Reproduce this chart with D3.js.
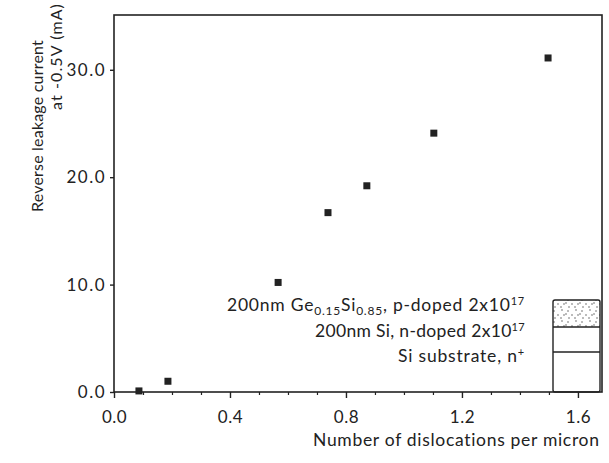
<!DOCTYPE html>
<html><head><meta charset="utf-8">
<script src="https://cdn.jsdelivr.net/npm/d3@7"></script>
<style>
html,body{margin:0;padding:0;background:#fff;}
text{font-family:Lato,"DejaVu Sans",sans-serif;fill:#222;}
</style></head>
<body><svg id="c" width="609" height="463"></svg>
<script>
// data
const dislocations = [0.086, 0.186, 0.566, 0.738, 0.872, 1.103, 1.497];
const leakage      = [0.1, 1.0, 10.2, 16.7, 19.2, 24.1, 31.1];
const xTicks = [0.0, 0.4, 0.8, 1.2, 1.6];
const xMinor = [0.1, 0.2, 0.3, 0.5, 0.6, 0.7, 0.9, 1.0, 1.1, 1.3, 1.4, 1.5];
const yTicks = [0, 10, 20, 30];
const xLabel = "Number of dislocations per micron";
const yLabel1 = "Reverse leakage current";
const yLabel2 = "at -0.5V (mA)";

const svg = d3.select("#c");
const L = 114, T = 15, R = 602, B = 392;
const x = d3.scaleLinear().domain([0, 1.683]).range([L, R]);
const y = d3.scaleLinear().domain([0, 35.1]).range([B, T]);
const ink = "#222";

// stretch a text element to a measured width via letter-spacing
function fit(sel, target) {
  const node = sel.node();
  const w = node.getComputedTextLength();
  const n = node.textContent.length;
  if (n > 1) sel.style("letter-spacing", ((target - w) / n) + "px");
  return sel;
}

// frame
svg.append("rect").attr("x", L).attr("y", T).attr("width", R - L).attr("height", B - T)
  .attr("fill", "none").attr("stroke", ink).attr("stroke-width", 1.6);

// x axis
const xa = svg.append("g").attr("transform", `translate(0,${B})`)
  .call(d3.axisBottom(x).tickValues(xTicks).tickFormat(d3.format(".1f")).tickSize(6).tickPadding(13));
xa.select(".domain").remove();
xa.selectAll("line").attr("stroke", ink).attr("stroke-width", 1.4);
xa.selectAll("text").style("font-size", "17px").style("fill", ink).style("letter-spacing", "0.5px");
svg.append("g").attr("transform", `translate(0,${B})`)
  .call(d3.axisBottom(x).tickValues(xMinor).tickFormat("").tickSize(3))
  .call(g => g.select(".domain").remove())
  .selectAll("line").attr("stroke", ink).attr("stroke-width", 1.2);

// y axis
const ya = svg.append("g").attr("transform", `translate(${L},0)`)
  .call(d3.axisLeft(y).tickValues(yTicks).tickFormat(d3.format(".1f")).tickSize(4).tickPadding(4));
ya.select(".domain").remove();
ya.selectAll("line").attr("stroke", ink).attr("stroke-width", 1.4);
ya.selectAll("text").style("font-size", "17px").style("fill", ink).style("letter-spacing", "1.5px");

// axis labels
fit(svg.append("text").attr("x", 313).attr("y", 446).attr("text-anchor", "start")
  .style("font-size", "17.5px").text(xLabel), 287);
fit(svg.append("text").attr("transform", "translate(43,212) rotate(-90)")
  .attr("text-anchor", "start").style("font-size", "16px").text(yLabel1), 172);
fit(svg.append("text").attr("transform", "translate(62,110) rotate(-90)")
  .attr("text-anchor", "start").style("font-size", "16px").text(yLabel2), 107);

// points
const pts = dislocations.map((d, i) => ({x: d, y: leakage[i]}));
svg.selectAll("rect.pt").data(pts).enter().append("rect").attr("class", "pt")
  .attr("x", d => x(d.x) - 3.5).attr("y", d => y(d.y) - 3.5)
  .attr("width", 7).attr("height", 7).attr("fill", ink);

// legend (layer stack)
const defs = svg.append("defs");
const pat = defs.append("pattern").attr("id", "dots").attr("patternUnits", "userSpaceOnUse")
  .attr("width", 14).attr("height", 11);
[[2,2],[8,3],[12,7],[4,7],[9,10],[1,10],[6,6]].forEach(p =>
  pat.append("circle").attr("cx", p[0]).attr("cy", p[1]).attr("r", 0.7).attr("fill", "#444"));

const bx0 = 553, bx1 = 600;
const rows = [300, 327, 352, B];
svg.append("rect").attr("x", bx0).attr("y", rows[0]).attr("width", bx1 - bx0).attr("height", rows[1] - rows[0])
  .attr("fill", "url(#dots)");
svg.append("rect").attr("x", bx0).attr("y", rows[0]).attr("width", bx1 - bx0).attr("height", rows[3] - rows[0])
  .attr("fill", "none").attr("stroke", ink).attr("stroke-width", 1.4).attr("rx", 2);
[rows[1], rows[2]].forEach(r => svg.append("line").attr("x1", bx0).attr("x2", bx1)
  .attr("y1", r).attr("y2", r).attr("stroke", ink).attr("stroke-width", 1.3));

const lt = svg.append("g").style("font-size", "17.5px");
const t1 = lt.append("text").attr("x", 227).attr("y", 311);
t1.append("tspan").text("200nm Ge");
t1.append("tspan").attr("dy", 4).style("font-size", "12px").text("0.15");
t1.append("tspan").attr("dy", -4).text("Si");
t1.append("tspan").attr("dy", 4).style("font-size", "12px").text("0.85");
t1.append("tspan").attr("dy", -4).text(", p-doped 2x10");
t1.append("tspan").attr("dy", -6).style("font-size", "11px").text("17");
fit(t1, 298);
const t2 = lt.append("text").attr("x", 315).attr("y", 337);
t2.append("tspan").text("200nm Si, n-doped 2x10");
t2.append("tspan").attr("dy", -6).style("font-size", "11px").text("17");
fit(t2, 210);
const t3 = lt.append("text").attr("x", 398).attr("y", 362);
t3.append("tspan").text("Si substrate, n");
t3.append("tspan").attr("dy", -6).style("font-size", "11px").text("+");
fit(t3, 127);
</script></body></html>
